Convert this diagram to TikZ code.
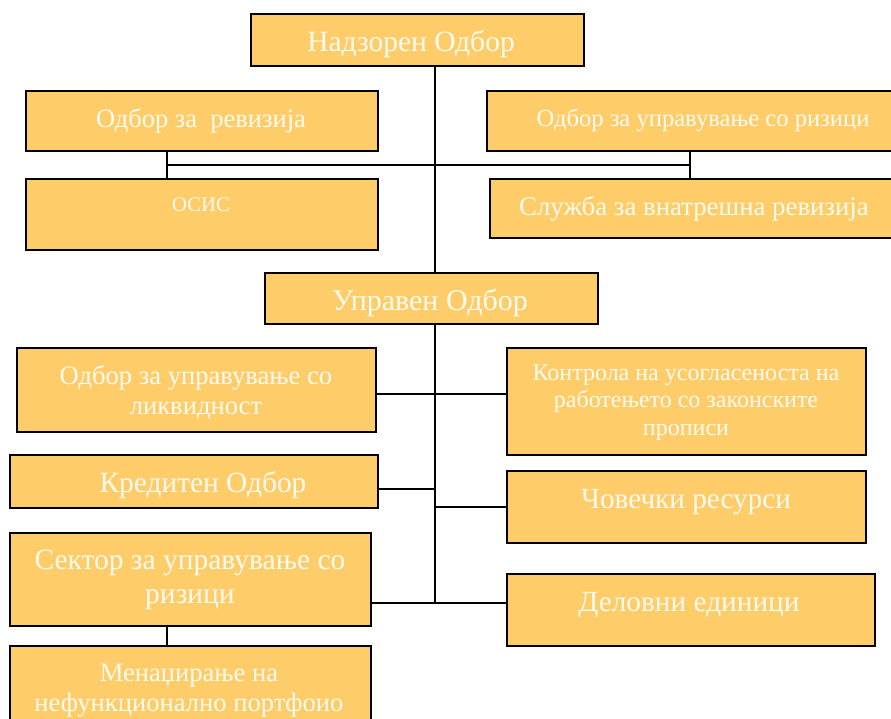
\documentclass[tikz,border=0pt]{standalone}
\usepackage{fontspec}
\setmainfont{Liberation Serif}
\definecolor{boxfill}{RGB}{254,204,104}
\definecolor{txtcol}{RGB}{255,251,240}
\newcommand\fsz[1]{\fontsize{#1}{1.15\dimexpr#1pt\relax}\selectfont}
\begin{document}
\begin{tikzpicture}[x=1pt,y=-1pt,
  box/.style={draw=black, line width=1.6pt, fill=boxfill, rectangle, anchor=north west, inner sep=0pt},
  lbl/.style={text=txtcol, align=center, inner sep=0pt, yshift=-2.5pt},
  conn/.style={draw=black, line width=1.3pt}]
\useasboundingbox (0,0) rectangle (891,719);
% boxes
\node[box, minimum width=333pt, minimum height=52pt] (nad) at (250,13) {};
\node[box, minimum width=352pt, minimum height=60pt] (rev) at (25,90) {};
\node[box, minimum width=352pt, minimum height=71pt] (osis) at (25,178) {};
\node[box, minimum width=410pt, minimum height=60pt] (rizb) at (486,90) {};
\node[box, minimum width=410pt, minimum height=59pt] (sluz) at (489,178) {};
\node[box, minimum width=333pt, minimum height=51pt] (upr) at (264,272) {};
\node[box, minimum width=359pt, minimum height=84pt] (likv) at (16,347) {};
\node[box, minimum width=359pt, minimum height=107pt] (kontr) at (506,347) {};
\node[box, minimum width=368pt, minimum height=53pt] (kred) at (9,454) {};
\node[box, minimum width=359pt, minimum height=72pt] (covek) at (506,470) {};
\node[box, minimum width=361pt, minimum height=93pt] (sekt) at (9,532) {};
\node[box, minimum width=368pt, minimum height=72pt] (delov) at (506,573) {};
\node[box, minimum width=361pt, minimum height=95pt] (men) at (9,645) {};
% connector coordinates
\coordinate (cx) at (435,0);
\coordinate (cl) at (167,165);
\coordinate (cr) at (690,165);
\coordinate (h1) at (0,394);
\coordinate (h2) at (0,489);
\coordinate (h3) at (0,507);
\coordinate (h4) at (0,603);
% connectors
\draw[conn] (nad.south -| cx) -- (upr.north -| cx);
\draw[conn] (cl) -- (cr);
\draw[conn] (rev.south -| cl) -- (osis.north -| cl);
\draw[conn] (rizb.south -| cr) -- (sluz.north -| cr);
\draw[conn] (upr.south -| cx) -- (h4 -| cx);
\draw[conn] (likv.east |- h1) -- (kontr.west |- h1);
\draw[conn] (kred.east |- h2) -- (h2 -| cx);
\draw[conn] (h3 -| cx) -- (covek.west |- h3);
\draw[conn] (sekt.east |- h4) -- (delov.west |- h4);
\draw[conn] (sekt.south -| cl) -- (men.north -| cl);
% texts
\node[lbl, font=\fsz{29.5}] (tnad) at (411,42) {Надзорен Одбор};
\node[lbl, font=\fsz{26.5}] (trev) at (201,118) {Одбор за\ \ ревизија};
\node[lbl, font=\fsz{20.7}] (tosis) at (201,202) {ОСИС};
\node[lbl, font=\fsz{24.6}] (trizb) at (703,118) {Одбор за управување со ризици};
\node[lbl, font=\fsz{26.8}] (tsluz) at (694,206) {Служба за внатрешна ревизија};
\node[lbl, font=\fsz{30}] (tupr) at (430,300) {Управен Одбор};
\node[lbl, font=\fsz{26.6}] (tlikv) at (196,390) {Одбор за управување со\\ликвидност};
\node[lbl, font=\fsz{24}] (tkontr) at (686,400) {Контрола на усогласеноста на\\работењето со законските\\прописи};
\node[lbl, font=\fsz{29.4}] (tkred) at (203,483) {Кредитен Одбор};
\node[lbl, font=\fsz{29.2}] (tcovek) at (686,500) {Човечки ресурси};
\node[lbl, font=\fsz{29.5}] (tsekt) at (190,577) {Сектор за управување со\\ризици};
\node[lbl, font=\fsz{29.3}] (tdelov) at (689,603) {Деловни единици};
\node[lbl, font=\fsz{26.6}] (tmen) at (189,688) {Менаџирање на\\нефункционално портфоио};
\end{tikzpicture}
\end{document}
